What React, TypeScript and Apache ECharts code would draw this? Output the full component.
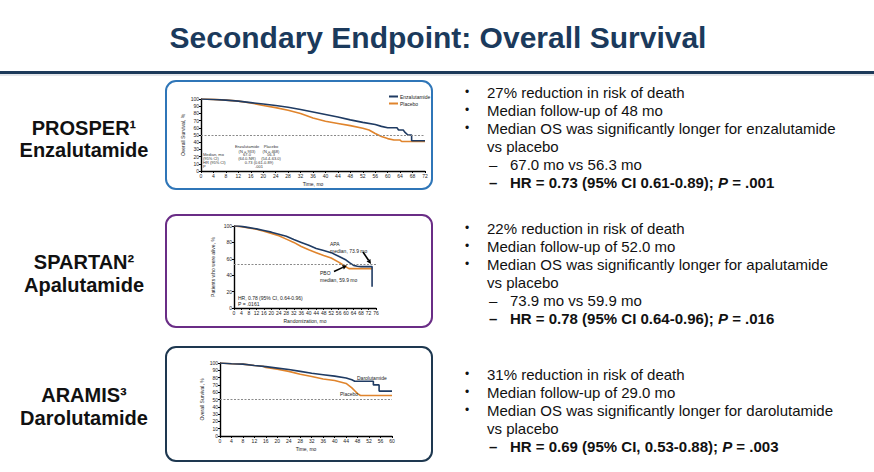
import React, { useEffect, useRef } from 'react';
import * as echarts from 'echarts';

// ---- Kaplan–Meier curves: [month, % alive] ----
const prosperEnza: [number, number][] = [
  [0, 100], [4, 99.3], [8, 98.5], [12, 97], [16, 95], [20, 93], [24, 91], [28, 88.5],
  [32, 85.5], [36, 82], [40, 78.5], [44, 75], [48, 71], [52, 67.5], [56, 64.5], [58, 62],
  [60, 60], [63, 60], [63.5, 57], [65, 57], [65.5, 54], [66.5, 50], [67.7, 50], [67.7, 42], [72, 42],
];
const prosperPlacebo: [number, number][] = [
  [0, 100], [4, 99.5], [8, 98.5], [12, 97], [16, 94.5], [20, 91], [24, 88], [28, 84.5],
  [32, 80], [36, 73.5], [40, 69], [44, 66], [48, 63], [52, 59.5], [54, 57], [56, 52],
  [58, 48], [60, 45], [62, 43], [64, 43], [64.5, 41], [72, 41],
];
const spartanApa: [number, number][] = [
  [0, 100], [2, 100], [4, 99.5], [8, 98], [12, 96.5], [16, 94.5], [20, 92.5], [24, 90],
  [28, 87.5], [32, 83.5], [36, 80], [40, 76.5], [44, 72.5], [48, 70], [52, 67.5], [56, 63],
  [60, 58.5], [62, 55], [64, 52], [66, 51], [68, 50.5], [73.9, 50.5], [73.9, 26],
];
const spartanPbo: [number, number][] = [
  [0, 100], [4, 99], [8, 97.5], [12, 96], [16, 93.5], [20, 91], [24, 88], [28, 84],
  [32, 80], [36, 75], [40, 71], [44, 67.5], [48, 64], [52, 61], [56, 56], [58, 53],
  [60, 50], [61.5, 48], [74, 48],
];
const aramisDaro: [number, number][] = [
  [0, 100], [4, 99], [8, 98.5], [12, 96.5], [16, 95], [20, 93], [24, 91], [28, 88.5],
  [32, 86], [36, 84], [40, 82], [44, 79.5], [46, 77], [47, 75], [53.5, 75], [53.5, 70],
  [55.5, 70], [55.5, 61.5], [60, 61.5],
];
const aramisPlacebo: [number, number][] = [
  [0, 100], [4, 99], [8, 98.5], [12, 96.5], [15, 95.5], [16, 94], [20, 91.5], [24, 88.5],
  [28, 84.5], [32, 81.5], [36, 78], [40, 76], [42, 74], [44, 72], [45, 69], [46, 66],
  [47, 62], [48, 58], [49, 55.5], [60, 55.5],
];

// median reference lines (% alive)
const medianRefs = [50, 53, 51];

// ---- slide text ----
const titleText = 'Secondary Endpoint: Overall Survival';
const trialNames = ['PROSPER\u00b9', 'SPARTAN\u00b2', 'ARAMIS\u00b3'];
const drugNames = ['Enzalutamide', 'Apalutamide', 'Darolutamide'];

const prosperBullets = ['27% reduction in risk of death', 'Median follow-up of 48 mo', 'Median OS was significantly longer for enzalutamide'];
const spartanBullets = ['22% reduction in risk of death', 'Median follow-up of 52.0 mo', 'Median OS was significantly longer for apalutamide'];
const aramisBullets = ['31% reduction in risk of death', 'Median follow-up of 29.0 mo', 'Median OS was significantly longer for darolutamide'];
const prosperSub = ['67.0 mo vs 56.3 mo'];
const spartanSub = ['73.9 mo vs 59.9 mo'];
const aramisSub: string[] = [];
const hrTexts = ['HR = 0.73 (95% CI 0.61-0.89); ', 'HR = 0.78 (95% CI 0.64-0.96); ', 'HR = 0.69 (95% CI, 0.53-0.88); '];
const pTexts = [' = .001', ' = .016', ' = .003'];

const FONT = '"Liberation Sans", Arial, Helvetica, sans-serif';
const NAVY = '#1f3b63';
const ORANGE = '#e0842c';
const TITLE = '#1b3a5c';

function txt(x: number, y: number, text: string, o: any = {}) {
  return {
    type: 'text', x, y, z: 10,
    style: {
      text, fontFamily: FONT, fontSize: o.size ?? 5, fontWeight: o.weight ?? 'normal',
      fill: o.color ?? '#222', align: o.align ?? 'left', verticalAlign: 'middle',
      rich: o.rich,
    },
    rotation: o.rotation ?? 0,
  };
}

function arrow(x1: number, y1: number, x2: number, y2: number) {
  const dx = x2 - x1, dy = y2 - y1;
  const len = Math.hypot(dx, dy);
  const ux = dx / len, uy = dy / len;
  const head = 4.5, half = 2.3;
  const bx = x2 - ux * head, by = y2 - uy * head;
  return [
    { type: 'line', z: 10, shape: { x1, y1, x2: bx, y2: by }, style: { stroke: '#000', lineWidth: 1.6 } },
    { type: 'polygon', z: 10, shape: { points: [[x2, y2], [bx - uy * half, by + ux * half], [bx + uy * half, by - ux * half]] }, style: { fill: '#000' } },
  ];
}

function textBlock(y0: number, bullets: string[], subs: string[], hr: string, p: string) {
  const out: any[] = [];
  const step = 18;
  let y = y0;
  const body = { size: 15, color: '#111' };
  bullets.forEach((b) => {
    out.push(txt(467, y, '\u2022', { size: 12, color: '#111', align: 'center' }));
    out.push(txt(487, y, b, body));
    y += step;
  });
  out.push(txt(487, y, 'vs placebo', body));
  y += step;
  subs.forEach((s) => {
    out.push(txt(489, y, '\u2013', body));
    out.push(txt(510, y, s, body));
    y += step;
  });
  out.push(txt(489, y, '\u2013', { ...body, weight: 'bold' }));
  out.push(txt(510, y, `{b|${hr}}{bi|P}{b|${p}}`, {
    ...body,
    rich: {
      b: { fontFamily: FONT, fontSize: 15, fontWeight: 'bold', fill: '#111' },
      bi: { fontFamily: FONT, fontSize: 15, fontWeight: 'bold', fontStyle: 'italic', fill: '#111' },
    },
  }));
  return out;
}

function axisPair(grid: number, max: number, yInterval: number, xName: string, yName: string, yGap: number) {
  const line = { show: true, lineStyle: { color: '#000', width: 1.4 } };
  const tick = { show: true, length: 2, lineStyle: { color: '#000', width: 1 } };
  const label = { fontSize: 5, color: '#222', fontFamily: FONT, margin: 2 };
  return {
    x: {
      type: 'value', gridIndex: grid, min: 0, max, interval: 4,
      axisLine: line, axisTick: tick, axisLabel: label, splitLine: { show: false },
      name: xName, nameLocation: 'middle', nameGap: 10,
      nameTextStyle: { fontSize: 5, fontFamily: FONT, color: '#222' },
    },
    y: {
      type: 'value', gridIndex: grid, min: 0, max: 100, interval: yInterval,
      axisLine: line, axisTick: tick, axisLabel: label, splitLine: { show: false },
      name: yName, nameLocation: 'middle', nameGap: yGap,
      nameTextStyle: { fontSize: 5, fontFamily: FONT, color: '#222' },
    },
  };
}

function km(name: string, data: [number, number][], color: string, idx: number, ref?: number) {
  const s: any = {
    type: 'line', name, data, xAxisIndex: idx, yAxisIndex: idx,
    showSymbol: false, symbol: 'none', lineStyle: { color, width: 1.6 }, itemStyle: { color },
    z: color === NAVY ? 4 : 3,
  };
  if (ref !== undefined) {
    s.markLine = {
      silent: true, symbol: 'none', label: { show: false },
      lineStyle: { color: '#8a8a8a', type: [2, 1.5], width: 1 },
      data: [{ yAxis: ref }],
    };
  }
  return s;
}

export default function App() {
  const ref = useRef<HTMLDivElement>(null);

  useEffect(() => {
    if (!ref.current) return;
    const chart = echarts.init(ref.current, undefined, { renderer: 'svg' });

    const a1 = axisPair(0, 72, 10, 'Time, mo', 'Overall Survival, %', 16);
    const a2 = axisPair(1, 76, 20, 'Randomization, mo', 'Patients who were alive, %', 19);
    const a3 = axisPair(2, 60, 10, 'Time, mo', 'Overall Survival, %', 16);

    const graphics: any[] = [
      txt(438, 37, titleText, { size: 30, weight: 'bold', color: TITLE, align: 'center' }),
      { type: 'rect', shape: { x: 0, y: 71, width: 874, height: 3 }, style: { fill: '#1d3a5a' } },
      { type: 'rect', shape: { x: 0, y: 74.5, width: 874, height: 1 }, style: { fill: '#c9ced6' } },
      // panels
      { type: 'rect', shape: { x: 166, y: 81, width: 266, height: 108, r: 10 }, style: { fill: 'none', stroke: '#2f76b8', lineWidth: 2 } },
      { type: 'rect', shape: { x: 166, y: 215, width: 266, height: 112, r: 10 }, style: { fill: 'none', stroke: '#6a2d86', lineWidth: 2 } },
      { type: 'rect', shape: { x: 166, y: 347, width: 266, height: 114, r: 10 }, style: { fill: 'none', stroke: '#1e3850', lineWidth: 2 } },
    ];

    const labelYs = [[128, 150], [262, 285], [395, 418]];
    trialNames.forEach((t, i) => {
      graphics.push(txt(84, labelYs[i][0], t, { size: 20, weight: 'bold', color: '#111', align: 'center' }));
      graphics.push(txt(84, labelYs[i][1], drugNames[i], { size: 20, weight: 'bold', color: '#111', align: 'center' }));
    });

    graphics.push(...textBlock(92, prosperBullets, prosperSub, hrTexts[0], pTexts[0]));
    graphics.push(...textBlock(228, spartanBullets, spartanSub, hrTexts[1], pTexts[1]));
    graphics.push(...textBlock(374, aramisBullets, aramisSub, hrTexts[2], pTexts[2]));

    // PROSPER inset table
    const t = { size: 4, color: '#333' };
    graphics.push(
      txt(247, 146.5, 'Enzalutamide', { ...t, align: 'center' }),
      txt(247, 151, '(N = 933)', { ...t, align: 'center' }),
      txt(271, 146.5, 'Placebo', { ...t, align: 'center' }),
      txt(271, 151, '(N = 468)', { ...t, align: 'center' }),
      txt(203, 154.5, 'Median, mo', t),
      txt(203, 158.5, '(95% CI)', t),
      txt(203, 162.7, 'HR (95% CI)', t),
      txt(203, 166.7, 'P', t),
      txt(247, 154.5, '67.0', { ...t, align: 'center' }),
      txt(247, 158.5, '(64.0-NR)', { ...t, align: 'center' }),
      txt(271, 154.5, '56.3', { ...t, align: 'center' }),
      txt(271, 158.5, '(54.4-63.0)', { ...t, align: 'center' }),
      txt(259, 162.7, '0.73 (0.61-0.89)', { ...t, align: 'center' }),
      txt(259, 166.7, '.001', { ...t, align: 'center' }),
    );

    // SPARTAN annotations
    graphics.push(
      txt(330, 244, 'APA', { size: 5 }),
      txt(330, 250.5, 'median, 73.9 mo', { size: 5 }),
      txt(320, 273, 'PBO', { size: 5 }),
      txt(320, 280, 'median, 59.9 mo', { size: 5 }),
      ...arrow(363, 252, 371, 264),
      ...arrow(334, 271.5, 347, 265.5),
      txt(238, 298, 'HR, 0.78 (95% CI, 0.64-0.96)', { size: 5 }),
      txt(238, 304, 'P = .0161', { size: 5 }),
    );

    // ARAMIS curve labels
    graphics.push(
      txt(357, 377.5, 'Darolutamide', { size: 5 }),
      txt(340, 394, 'Placebo', { size: 5 }),
    );

    chart.setOption({
      animation: false,
      backgroundColor: '#ffffff',
      grid: [
        { left: 201, top: 99, width: 224, height: 72 },
        { left: 234, top: 226, width: 142, height: 82 },
        { left: 220, top: 363, width: 172, height: 73 },
      ],
      xAxis: [a1.x, a2.x, a3.x],
      yAxis: [a1.y, a2.y, a3.y],
      legend: {
        data: ['Enzalutamide', 'Placebo'], orient: 'vertical', left: 389, top: 94,
        itemWidth: 9, itemHeight: 2, itemGap: 2, icon: 'rect', padding: 0,
        textStyle: { fontSize: 5, fontFamily: FONT, color: '#222', padding: [0, 0, 0, -3] },
      },
      series: [
        km('Placebo', prosperPlacebo, ORANGE, 0),
        km('Enzalutamide', prosperEnza, NAVY, 0, medianRefs[0]),
        km('PBO', spartanPbo, ORANGE, 1),
        km('APA', spartanApa, NAVY, 1, medianRefs[1]),
        km('Placebo', aramisPlacebo, ORANGE, 2),
        km('Darolutamide', aramisDaro, NAVY, 2, medianRefs[2]),
      ],
      graphic: graphics,
    });

    return () => chart.dispose();
  }, []);

  return <div ref={ref} style={{ position: 'absolute', left: 0, top: 0, width: 874, height: 472 }} />;
}
